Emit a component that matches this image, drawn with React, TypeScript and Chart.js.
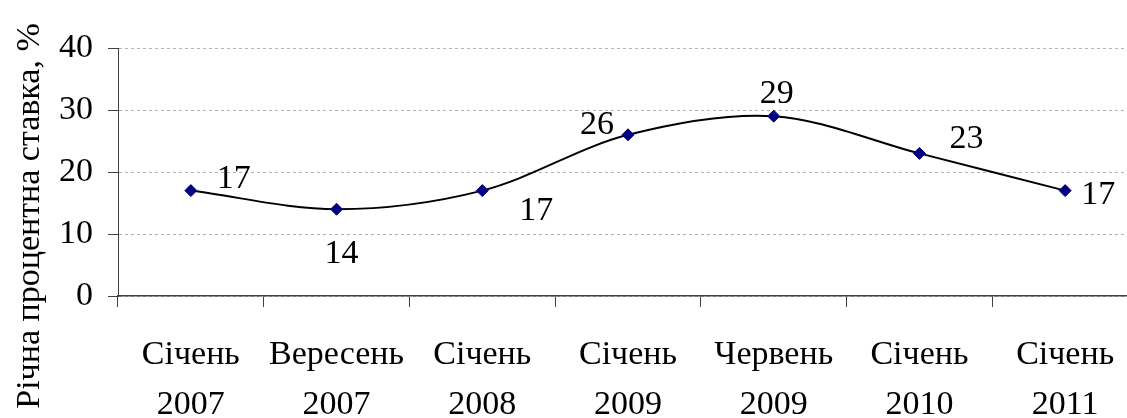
import React, { useEffect, useRef } from 'react';
import { Chart, registerables } from 'chart.js';

Chart.register(...registerables);

const categories: string[][] = [
  ['Січень', '2007'],
  ['Вересень', '2007'],
  ['Січень', '2008'],
  ['Січень', '2009'],
  ['Червень', '2009'],
  ['Січень', '2010'],
  ['Січень', '2011'],
];
const rates: number[] = [17, 14, 17, 26, 29, 23, 17];
const yMin = 0;
const yMax = 40;
const yStep = 10;
const yTitle = 'Річна процентна ставка, %';

// pixel offsets of each value label from its point (style, not data)
const labelOffsets: number[][] = [
  [43, -12],
  [5, 45],
  [54, 20],
  [-31, -10],
  [3, -22],
  [47, -14],
  [33, 4],
];

const FONT_FAMILY = "'Liberation Serif'";
const FONT_SIZE = 34;

export default function App() {
  const ref = useRef<HTMLCanvasElement | null>(null);

  useEffect(() => {
    if (!ref.current) return;

    const valueLabels = {
      id: 'valueLabels',
      afterDatasetsDraw(c: any) {
        const ctx = c.ctx;
        const meta = c.getDatasetMeta(0);
        ctx.save();
        ctx.font = `${FONT_SIZE}px ${FONT_FAMILY}`;
        ctx.fillStyle = '#000';
        ctx.textAlign = 'center';
        ctx.textBaseline = 'middle';
        meta.data.forEach((pt: any, i: number) => {
          const off = labelOffsets[i] || [0, -20];
          ctx.fillText(String(rates[i]), pt.x + off[0], pt.y + off[1]);
        });
        ctx.restore();
      },
    };

    const yTitlePlugin = {
      id: 'yTitlePlugin',
      afterDraw(c: any) {
        const ctx = c.ctx;
        ctx.save();
        ctx.font = `${FONT_SIZE}px ${FONT_FAMILY}`;
        ctx.fillStyle = '#000';
        ctx.textAlign = 'center';
        ctx.textBaseline = 'alphabetic';
        ctx.translate(39, 216);
        ctx.rotate(-Math.PI / 2);
        ctx.fillText(yTitle, 0, 0);
        ctx.restore();
      },
    };

    const chart = new Chart(ref.current, {
      type: 'line',
      data: {
        labels: categories,
        datasets: [
          {
            data: rates,
            borderColor: '#000',
            borderWidth: 2,
            tension: 0.33,
            fill: false,
            pointStyle: 'rectRot',
            pointRadius: 6,
            pointHoverRadius: 6,
            pointBackgroundColor: '#000080',
            pointBorderColor: '#000080',
            pointBorderWidth: 1,
          },
        ],
      },
      options: {
        responsive: false,
        animation: false,
        devicePixelRatio: 1,
        layout: { padding: { top: 48, right: 5, left: 0, bottom: 0 } },
        plugins: {
          legend: { display: false },
          tooltip: { enabled: false },
          title: { display: false },
        },
        scales: {
          x: {
            type: 'category',
            offset: true,
            grid: {
              offset: true,
              drawOnChartArea: false,
              drawTicks: true,
              tickLength: 11,
              tickColor: '#404040',
              tickWidth: 1,
            },
            border: { display: true, color: '#404040', width: 1.5 },
            ticks: {
              color: '#000',
              maxRotation: 0,
              autoSkip: false,
              padding: 23,
              font: { family: FONT_FAMILY, size: FONT_SIZE, lineHeight: 1.47 },
            },
            afterFit(scale: any) {
              scale.height = 122;
            },
          },
          y: {
            min: yMin,
            max: yMax,
            grid: {
              color: '#b4b4b4',
              lineWidth: 1,
              drawTicks: true,
              tickLength: 10,
              tickColor: '#404040',
              tickWidth: 1,
            },
            border: { display: true, color: '#404040', width: 1, dash: [3, 3] },
            ticks: {
              stepSize: yStep,
              color: '#000',
              padding: 15,
              font: { family: FONT_FAMILY, size: FONT_SIZE },
            },
            afterFit(scale: any) {
              scale.width = 118;
            },
          },
        },
      },
      plugins: [valueLabels, yTitlePlugin],
    });

    return () => chart.destroy();
  }, []);

  return (
    <div
      style={{
        position: 'fixed',
        left: 0,
        top: 0,
        width: 1127,
        height: 418,
        overflow: 'hidden',
        background: '#fff',
      }}
    >
      <canvas ref={ref} width={1145} height={418} style={{ display: 'block' }} />
    </div>
  );
}
